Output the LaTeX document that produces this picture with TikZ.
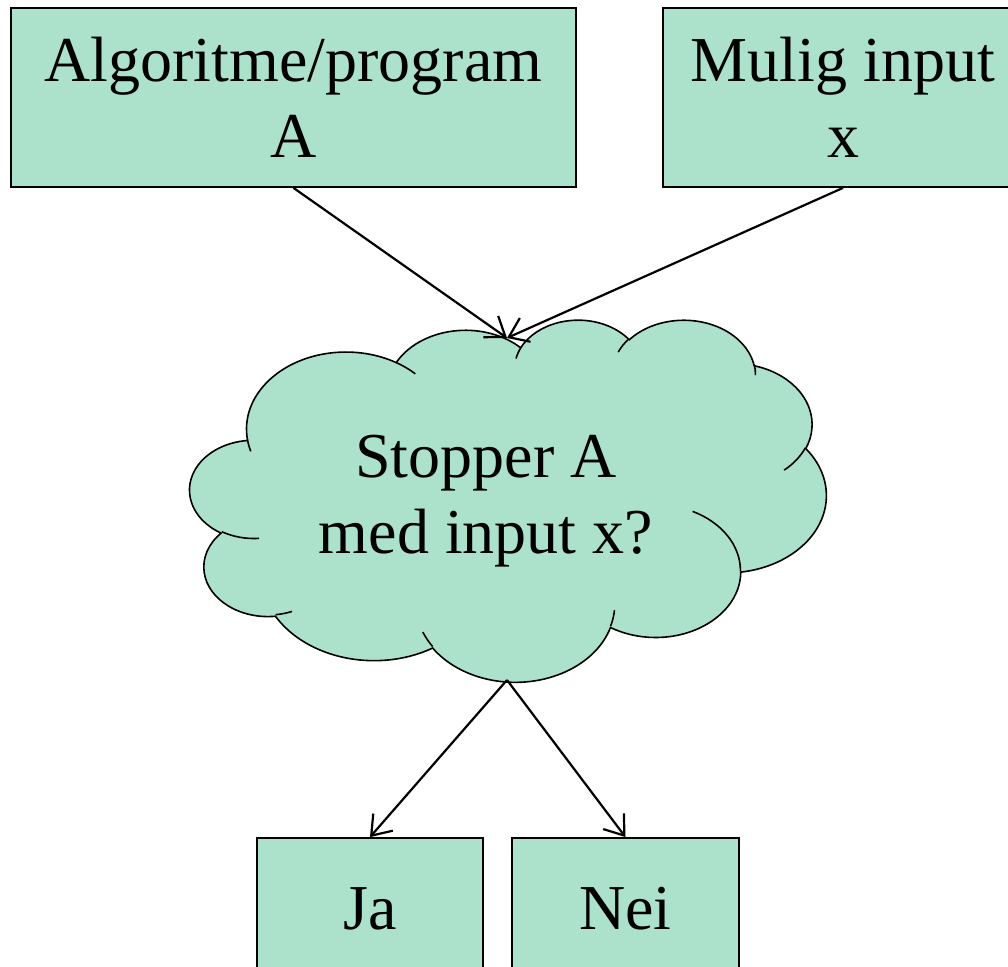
\documentclass[tikz,border=0pt]{standalone}
\usepackage{fontspec}
\setmainfont{Liberation Serif}
\usetikzlibrary{arrows.meta}
\definecolor{mint}{RGB}{172,226,203}

\begin{document}
\begin{tikzpicture}[x=0.5pt,y=-0.5pt,
  declare function={pa(\a,\w,\h)=atan2(\w*sin(\a),\h*cos(\a));},
  txt/.style={font=\fontsize{32}{38}\selectfont, align=center},
  box/.style={txt, draw=black, line width=0.9pt, fill=mint, inner sep=0pt},
  link/.style={line width=1.1pt, -{Straight Barb[length=9pt,width=13pt,line width=1.1pt]}},
  cloudline/.style={draw=black, line width=0.8pt},
  % elliptic arc: x radius, y radius, start and sweep given as angles seen from the centre
  carc/.style n args={4}{insert path={
    arc[x radius=#1, y radius=#2, start angle={pa(#3,#1,#2)},
        delta angle={mod(pa(#3+#4,#1,#2)-pa(#3,#1,#2)+720,360)}]}}
]
\useasboundingbox (0,0) rectangle (1008,966);
\clip (0,0) rectangle (1008,966);

% cloud
\begin{scope}[shift={(190,319)}, xscale=1.4725, yscale=0.838]
  \path[fill=mint, cloudline] (39.00,143.70)
    [carc={67.53}{91.90}{-190.4875}{123.7805}]
    [carc={53.33}{72.67}{-144.1024}{89.9452}]
    [carc={43.65}{59.45}{-145.8079}{99.7230}]
    [carc={48.57}{65.95}{-130.9861}{117.2417}]
    [carc={53.33}{72.73}{-78.7089}{109.0269}]
    [carc={67.75}{92.20}{-46.2673}{130.2690}]
    [carc={57.85}{78.67}{0.6250}{114.0333}]
    [carc={67.52}{92.15}{22.4516}{115.1726}]
    [carc={77.20}{105.43}{66.2426}{75.7110}]
    [carc={43.60}{59.18}{-274.9421}{146.7356}]
    [carc={43.45}{59.45}{-246.8285}{152.5189}]
    -- cycle;
  \path[cloudline]
    (46.93,261.77) [carc={43.45}{59.45}{86.7420}{26.4295}]
    (69.28,348.99) [carc={43.60}{59.18}{73.6105}{11.4475}]
    (164.78,390.90) [carc={67.52}{92.15}{137.6242}{14.0811}]
    (288.27,347.51) [carc={67.52}{92.15}{6.4533}{15.9984}]
    (341.29,229.54) [carc={57.85}{78.67}{-70.2924}{70.9174}]
    (417.98,153.54) [carc={53.33}{72.73}{30.3180}{27.7515}]
    (383.24,54.26) [carc={48.57}{65.95}{-13.7443}{14.8589}]
    (290.78,39.52) [carc={48.57}{65.95}{-149.1815}{18.1954}]
    (221.41,47.20) [carc={43.65}{59.45}{-163.4943}{17.6864}]
    (140.00,51.92) [carc={67.53}{91.90}{-66.7070}{12.3194}]
    (41.27,157.89) [carc={67.53}{91.90}{157.6544}{11.8582}];
\end{scope}
\node[txt] (q) at (486,501) {Stopper A\\med input x?};
\coordinate (ctop) at (507,338);
\coordinate (cbot) at (507,680);

% boxes
\node[box, minimum width=282.5pt, minimum height=89.5pt] (alg) at (293.5,97.5) {Algoritme/program\\A};
\node[box, minimum width=180pt, minimum height=89.5pt] (inp) at (843,97.5) {Mulig input\\x};
\node[box, minimum width=113pt, minimum height=71pt] (ja) at (370,909) {Ja};
\node[box, minimum width=113.5pt, minimum height=71pt] (nei) at (625.5,909) {Nei};

% connectors
\draw[link] (alg.south) -- (ctop);
\draw[link] (inp.south) -- (ctop);
\draw[link] (cbot) -- (ja.north);
\draw[link] (cbot) -- (nei.north);
\end{tikzpicture}
\end{document}
